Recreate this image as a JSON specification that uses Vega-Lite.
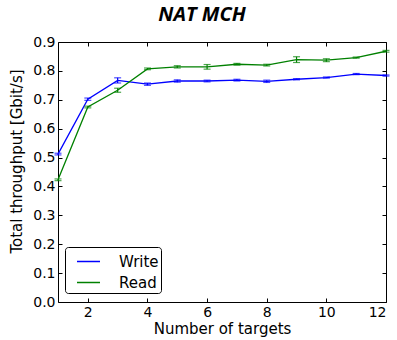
{
  "$schema": "https://vega.github.io/schema/vega-lite/v6.json",
  "autosize": "none",
  "width": 328,
  "height": 260,
  "padding": {"left": 58, "top": 42, "right": 11, "bottom": 38},
  "background": "white",
  "config": {
    "font": "DejaVu Sans",
    "view": {"stroke": "black", "strokeWidth": 1},
    "axis": {"grid": false, "domain": false, "tickColor": "black", "labelColor": "black", "titleColor": "black", "labelFontSize": 14, "titleFontSize": 15, "titleFontWeight": "normal", "tickSize": -4, "labelPadding": 7}
  },
  "title": {"text": "NAT MCH", "font": "Open Sans", "fontSize": 20, "fontWeight": "bold", "fontStyle": "italic", "color": "black", "offset": 10, "dx": -20},
  "data": {"values": [
    {"series": "Write", "x": 1, "y": 0.512, "ymin": 0.509, "ymax": 0.515},
    {"series": "Write", "x": 2, "y": 0.702, "ymin": 0.698, "ymax": 0.706},
    {"series": "Write", "x": 3, "y": 0.767, "ymin": 0.758, "ymax": 0.776},
    {"series": "Write", "x": 4, "y": 0.754, "ymin": 0.750, "ymax": 0.758},
    {"series": "Write", "x": 5, "y": 0.765, "ymin": 0.761, "ymax": 0.769},
    {"series": "Write", "x": 6, "y": 0.765, "ymin": 0.762, "ymax": 0.768},
    {"series": "Write", "x": 7, "y": 0.768, "ymin": 0.765, "ymax": 0.771},
    {"series": "Write", "x": 8, "y": 0.764, "ymin": 0.760, "ymax": 0.768},
    {"series": "Write", "x": 9, "y": 0.771, "ymin": 0.769, "ymax": 0.773},
    {"series": "Write", "x": 10, "y": 0.777, "ymin": 0.775, "ymax": 0.779},
    {"series": "Write", "x": 11, "y": 0.789, "ymin": 0.787, "ymax": 0.791},
    {"series": "Write", "x": 12, "y": 0.784, "ymin": 0.782, "ymax": 0.786},
    {"series": "Read", "x": 1, "y": 0.423, "ymin": 0.420, "ymax": 0.426},
    {"series": "Read", "x": 2, "y": 0.675, "ymin": 0.672, "ymax": 0.678},
    {"series": "Read", "x": 3, "y": 0.733, "ymin": 0.726, "ymax": 0.740},
    {"series": "Read", "x": 4, "y": 0.807, "ymin": 0.804, "ymax": 0.810},
    {"series": "Read", "x": 5, "y": 0.814, "ymin": 0.810, "ymax": 0.818},
    {"series": "Read", "x": 6, "y": 0.814, "ymin": 0.806, "ymax": 0.822},
    {"series": "Read", "x": 7, "y": 0.823, "ymin": 0.820, "ymax": 0.826},
    {"series": "Read", "x": 8, "y": 0.820, "ymin": 0.817, "ymax": 0.823},
    {"series": "Read", "x": 9, "y": 0.839, "ymin": 0.829, "ymax": 0.849},
    {"series": "Read", "x": 10, "y": 0.837, "ymin": 0.832, "ymax": 0.842},
    {"series": "Read", "x": 11, "y": 0.846, "ymin": 0.844, "ymax": 0.848},
    {"series": "Read", "x": 12, "y": 0.868, "ymin": 0.865, "ymax": 0.871}
  ]},
  "layer": [
    {
      "mark": {"type": "line", "strokeWidth": 1.3, "clip": true},
      "encoding": {
        "x": {"field": "x", "type": "quantitative", "scale": {"domain": [1, 12], "nice": false, "zero": false}, "axis": {"values": [2, 4, 6, 8, 10, 12], "title": "Number of targets", "titlePadding": 2}},
        "y": {"field": "y", "type": "quantitative", "scale": {"domain": [0, 0.9], "nice": false}, "axis": {"values": [0, 0.1, 0.2, 0.3, 0.4, 0.5, 0.6, 0.7, 0.8, 0.9], "format": ".1f", "title": "Total throughput [Gbit/s]", "titleX": -34, "titleY": 119}},
        "color": {"field": "series", "type": "nominal", "scale": {"domain": ["Write", "Read"], "range": ["#0000ff", "#008000"]},
          "legend": {"title": null, "orient": "none", "legendX": 7, "legendY": 205, "symbolType": "stroke", "symbolSize": 529, "symbolStrokeWidth": 1.5, "labelFontSize": 15, "labelColor": "black", "strokeColor": "black", "padding": 2, "cornerRadius": 3, "fillColor": "white", "rowPadding": -1, "labelOffset": 18, "symbolOffset": 9}}
      }
    },
    {
      "mark": {"type": "errorbar", "ticks": {"size": 7}, "thickness": 1.2},
      "encoding": {
        "x": {"field": "x", "type": "quantitative", "axis": {"orient": "top", "values": [2, 4, 6, 8, 10, 12], "labels": false, "title": null}},
        "y": {"field": "ymin", "type": "quantitative", "axis": {"orient": "right", "values": [0, 0.1, 0.2, 0.3, 0.4, 0.5, 0.6, 0.7, 0.8, 0.9], "labels": false, "title": null}},
        "y2": {"field": "ymax"},
        "color": {"field": "series", "type": "nominal", "legend": null}
      }
    }
  ],
  "resolve": {"axis": {"x": "independent", "y": "independent"}}
}
